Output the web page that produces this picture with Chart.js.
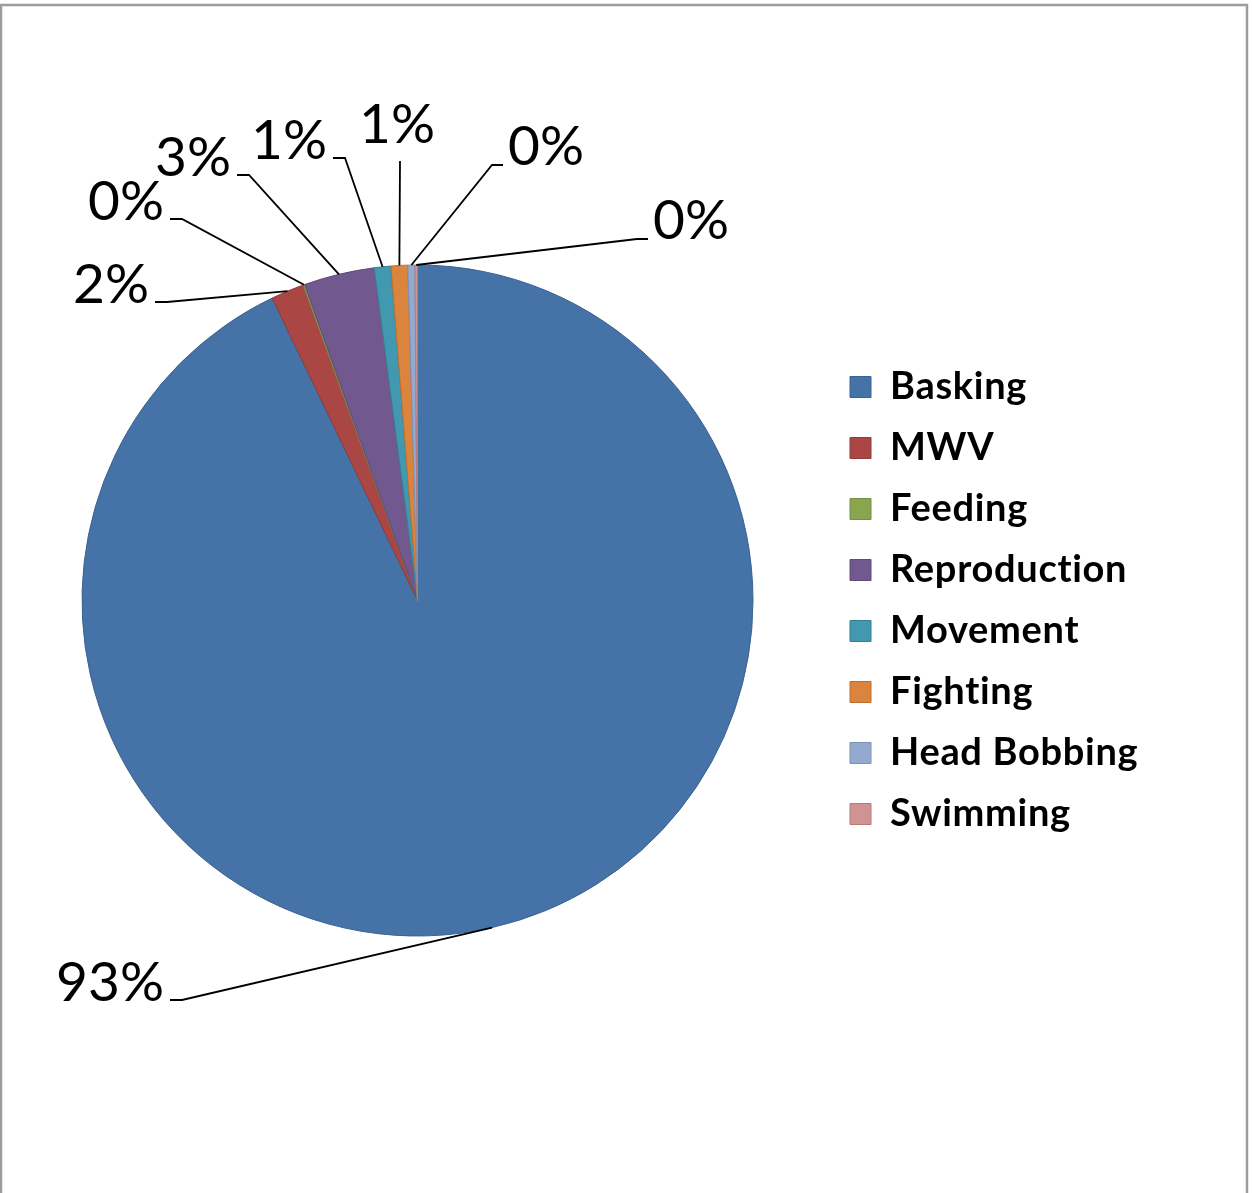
<!DOCTYPE html>
<html>
<head>
<meta charset="utf-8">
<script src="https://cdn.jsdelivr.net/npm/chart.js@4.4.1/dist/chart.umd.min.js"></script>
<style>
  html, body { margin: 0; padding: 0; background: #fff; }
  canvas { display: block; }
</style>
</head>
<body>
<canvas id="behaviour" width="1252" height="1193"></canvas>
<script>
// share of observed time per behaviour (percent)
const behaviours = ['Basking', 'MWV', 'Feeding', 'Reproduction', 'Movement', 'Fighting', 'Head Bobbing', 'Swimming'];
const shares = [92.86, 1.6, 0.07, 3.4, 0.8, 0.8, 0.34, 0.12];

const fills   = ['#4572A7', '#AA4643', '#89A54E', '#71588F', '#4198AF', '#DB843D', '#93A9CF', '#D19392'];
const borders = ['#3B6290', '#923B39', '#759043', '#5F4A79', '#377F92', '#BA7033', '#7D90B0', '#B27D7C'];

// where each percentage label sits: end of its leader line, and which side the text goes
const labelSpots = [
  { x: 170, y: 1000, side: 'left' },
  { x: 155, y: 302,  side: 'left' },
  { x: 170, y: 219,  side: 'left' },
  { x: 237, y: 175,  side: 'left' },
  { x: 333, y: 158,  side: 'left' },
  { x: 400, y: 161,  side: 'top' },
  { x: 503, y: 165,  side: 'right' },
  { x: 648, y: 239,  side: 'right' }
];

const legendFont = { family: 'Lato', weight: 'bold', size: 38 };
const legendPad = 23;
const legendBox = 21;
const legendLeft = 827;

// legend width depends on the widest entry, so size the right padding from it
const meas = document.createElement('canvas').getContext('2d');
meas.font = 'bold 38px Lato';
const widest = Math.max(...behaviours.map(t => meas.measureText(t).width));
const legendWidth = legendPad + legendBox + legendFont.size / 2 + widest + 10;
const padRight = 1252 - legendLeft - legendWidth;

const frame = {
  id: 'frame',
  beforeDraw(chart) {
    const c = chart.ctx;
    c.save();
    c.fillStyle = '#fff';
    c.fillRect(0, 0, chart.width, chart.height);
    c.strokeStyle = '#9c9c9c';
    c.lineWidth = 2.5;
    c.beginPath();
    c.moveTo(1, chart.height);
    c.lineTo(1, 5);
    c.lineTo(1247, 5);
    c.lineTo(1247, chart.height);
    c.stroke();
    c.restore();
    // a little tracking on the legend text (also keeps the fi/ti ligatures apart)
    c.letterSpacing = '0.7px';
  },
  afterDraw(chart) {
    chart.ctx.letterSpacing = '0px';
  }
};

const pctLabels = {
  id: 'pctLabels',
  afterDatasetsDraw(chart) {
    const c = chart.ctx;
    const arcs = chart.getDatasetMeta(0).data;
    const total = shares.reduce((a, b) => a + b, 0);
    c.save();
    c.letterSpacing = '0px';
    c.strokeStyle = '#000';
    c.lineWidth = 1.8;
    c.fillStyle = '#000';
    c.font = '55px Lato';
    arcs.forEach((arc, i) => {
      const p = arc.getProps(['x', 'y', 'startAngle', 'endAngle', 'outerRadius'], true);
      const mid = (p.startAngle + p.endAngle) / 2;
      const ax = p.x + Math.cos(mid) * p.outerRadius;
      const ay = p.y + Math.sin(mid) * p.outerRadius;
      const s = labelSpots[i];
      const text = Math.round(shares[i] / total * 100) + '%';

      c.beginPath();
      c.moveTo(ax, ay);
      if (s.side === 'left') c.lineTo(s.x + 12, s.y);
      else if (s.side === 'right') c.lineTo(s.x - 11, s.y);
      c.lineTo(s.x, s.y);
      c.stroke();

      c.textBaseline = 'alphabetic';
      if (s.side === 'left') {
        c.textAlign = 'right';
        c.fillText(text, s.x - 6, s.y + 1);
      } else if (s.side === 'right') {
        c.textAlign = 'left';
        c.fillText(text, s.x + 5, s.y);
      } else {
        c.textAlign = 'center';
        c.fillText(text, s.x - 3, s.y - 18);
      }
    });
    c.restore();
  }
};

new Chart(document.getElementById('behaviour'), {
  type: 'pie',
  data: {
    labels: behaviours,
    datasets: [{
      data: shares,
      backgroundColor: fills,
      borderColor: borders,
      borderWidth: 1
    }]
  },
  options: {
    responsive: false,
    animation: false,
    radius: 335.5,
    layout: { padding: { left: 8, top: 8, right: padRight, bottom: 0 } },
    plugins: {
      legend: {
        position: 'right',
        align: 'center',
        labels: {
          boxWidth: legendBox,
          boxHeight: legendBox,
          padding: legendPad,
          color: '#000',
          font: legendFont
        }
      },
      tooltip: { enabled: false }
    }
  },
  plugins: [frame, pctLabels]
});
</script>
</body>
</html>
